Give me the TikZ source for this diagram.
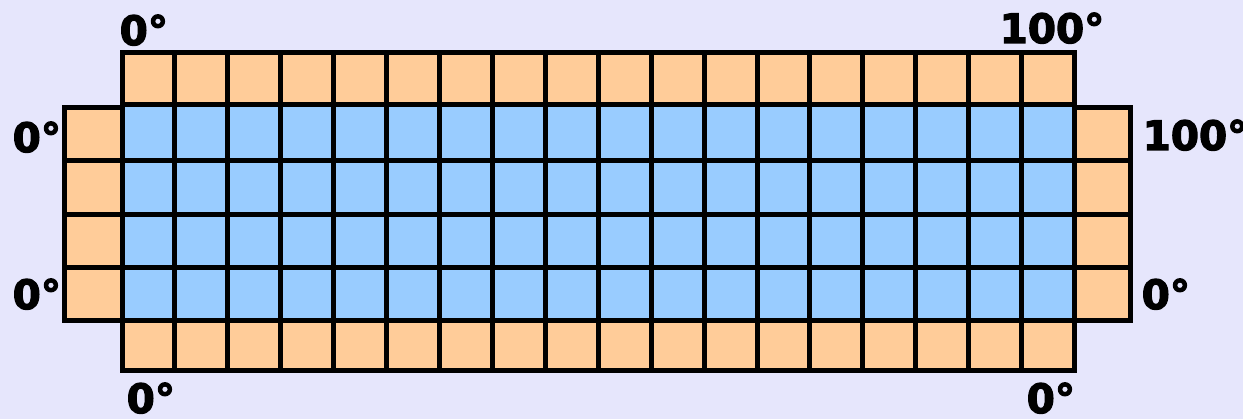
\documentclass[tikz,border=0pt]{standalone}
\usepackage{fontspec}
\setmainfont{DejaVu Sans}
\newfontfamily\degfont[FakeBold=3]{DejaVu Sans Bold}
\usepackage{tikz}
\definecolor{bglav}{RGB}{230,230,252}
\definecolor{edgeorange}{RGB}{255,204,153}
\definecolor{innerblue}{RGB}{153,204,255}
\tikzset{
  gridline/.style={line width=0.05cm, color=black, line cap=rect},
  deglabel/.style={inner sep=0pt, anchor=base west, font=\degfont\fontsize{11.5}{14}\selectfont},
}

\begin{document}
\begin{tikzpicture}[x=0.01cm, y=-0.01cm]
  % background and frame
  \fill[bglav] (0,0) rectangle (1243,419);
  \useasboundingbox (0,0) rectangle (1243,419);

  % fills
  \fill[edgeorange] (122,52.5) rectangle (1074.5,370.5);
  \fill[edgeorange] (64.5,107.5) rectangle (1130.5,321);
  \fill[innerblue] (122,105) rectangle (1074.5,321);

  % verticals of the plate
  \foreach \i in {0,...,18}
    \draw[gridline] ({122+\i*52.92},52.5) -- ({122+\i*52.92},370.5);
  % side columns
  \draw[gridline] (122,107.5) -- (64.5,107.5) -- (64.5,321) -- (122,321);
  \draw[gridline] (1074.5,107.5) -- (1130.5,107.5) -- (1130.5,321) -- (1074.5,321);
  % horizontals
  \draw[gridline] (122,52.5) -- (1074.5,52.5);
  \draw[gridline] (122,105) -- (1074.5,105);
  \foreach \y in {161,214.5,267.5}
    \draw[gridline] (64.5,\y) -- (1130.5,\y);
  \draw[gridline] (122,321) -- (1074.5,321);
  \draw[gridline] (122,370.5) -- (1074.5,370.5);

  % temperatures
  \node[deglabel] (toplft) at (119,45) {0°};
  \node[deglabel] (toprgt) at (999,43) {100°};
  \node[deglabel] (lftup) at (12,152) {0°};
  \node[deglabel] (lftdn) at (12,309) {0°};
  \node[deglabel] (rgtup) at (1142,150) {100°};
  \node[deglabel] (rgtdn) at (1141,309) {0°};
  \node[deglabel] (botlft) at (126,413) {0°};
  \node[deglabel] (botrgt) at (1026,413) {0°};
\end{tikzpicture}
\end{document}
